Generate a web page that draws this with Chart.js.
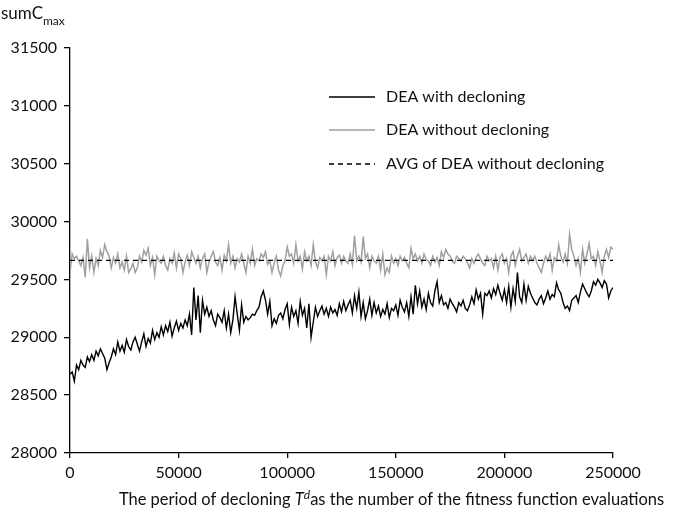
<!DOCTYPE html>
<html>
<head>
<meta charset="utf-8">
<script src="https://cdn.jsdelivr.net/npm/chart.js@4"></script>
<style>
  html, body { margin: 0; padding: 0; background: #fff; }
  #wrap { width: 686px; height: 513px; position: relative; }
</style>
</head>
<body>
<div id="wrap"><canvas id="myChart" width="686" height="513"></canvas></div>
<script>
// evaluations on x, one sample every 1000
const evalStep = 1000;
const evalMax = 250000;

const withDecloning = [
	28680, 28700, 28620, 28760, 28720, 28800, 28760, 28740, 28830, 28790,
	28850, 28800, 28880, 28840, 28900, 28860, 28820, 28720, 28780, 28830,
	28900, 28850, 28960, 28880, 28930, 28870, 28980, 28920, 28890, 28960,
	29000, 28940, 28880, 28960, 29030, 28920, 28990, 28950, 29060, 28980,
	29040, 29000, 29090, 29020, 29100, 29050, 29130, 29010, 29080, 29140,
	29060, 29120, 29080, 29150, 29100, 29200, 29020, 29430, 29150, 29360,
	29040, 29320, 29200, 29260, 29180, 29230, 29150, 29100, 29200, 29170,
	29130, 29230, 29080, 29200, 29040, 29150, 29350, 29200, 29060, 29280,
	29130, 29180, 29150, 29170, 29200, 29190, 29230, 29260, 29350, 29400,
	29320, 29200, 29310, 29100, 29160, 29120, 29190, 29210, 29160, 29240,
	29290, 29110, 29260, 29180, 29230, 29120, 29310, 29190, 29250, 29080,
	29290, 29000, 29130, 29260, 29180, 29230, 29270, 29200, 29250, 29180,
	29260, 29210, 29240, 29190, 29290, 29220, 29310, 29230, 29280, 29320,
	29210, 29360, 29250, 29390, 29180, 29300, 29160, 29230, 29330, 29190,
	29300, 29210, 29270, 29180, 29240, 29200, 29290, 29170, 29250, 29230,
	29280, 29190, 29320, 29260, 29220, 29300, 29180, 29350, 29200, 29450,
	29290, 29400, 29260, 29330, 29240, 29380, 29300, 29270, 29400, 29480,
	29300, 29360, 29280, 29300, 29250, 29330, 29290, 29260, 29220, 29300,
	29270, 29320, 29250, 29230, 29280, 29350, 29290, 29410, 29330, 29380,
	29200, 29380, 29360, 29400, 29340, 29420, 29370, 29450, 29380, 29320,
	29410, 29300, 29440, 29260, 29420, 29310, 29560, 29350, 29300, 29460,
	29320, 29440, 29380, 29340, 29300, 29280, 29330, 29360, 29290, 29340,
	29400, 29330, 29370, 29350, 29470, 29410, 29380, 29300, 29250, 29270,
	29230, 29320, 29340, 29360, 29300, 29390, 29460, 29420, 29380, 29350,
	29400, 29480, 29450, 29500, 29470, 29430, 29490, 29460, 29340, 29400,
	29430
];

const withoutDecloning = [
	29560, 29720, 29680, 29700, 29660, 29620, 29690, 29520, 29850, 29600,
	29700, 29560, 29680, 29620, 29750, 29690, 29800, 29740, 29700, 29600,
	29690, 29640, 29720, 29600, 29650, 29580, 29700, 29560, 29590, 29640,
	29560, 29600, 29700, 29650, 29750, 29710, 29770, 29620, 29690, 29540,
	29700, 29660, 29640, 29700, 29620, 29580, 29680, 29640, 29730, 29600,
	29720, 29680, 29560, 29650, 29710, 29620, 29740, 29690, 29640, 29700,
	29600, 29680, 29720, 29560, 29650, 29700, 29740, 29650, 29620, 29690,
	29580, 29710, 29660, 29800, 29640, 29700, 29600, 29680, 29650, 29720,
	29640, 29560, 29700, 29640, 29760, 29620, 29680, 29660, 29720, 29690,
	29740, 29630, 29660, 29560, 29640, 29700, 29580, 29530, 29620, 29660,
	29780, 29700, 29720, 29640, 29800, 29660, 29700, 29590, 29740, 29660,
	29700, 29620, 29800, 29650, 29600, 29690, 29660, 29700, 29540, 29700,
	29660, 29740, 29620, 29690, 29710, 29640, 29700, 29660, 29640, 29720,
	29630, 29880, 29660, 29700, 29650, 29870, 29680, 29720, 29600, 29700,
	29660, 29640, 29700, 29580, 29720, 29540, 29600, 29560, 29700, 29640,
	29680, 29620, 29700, 29660, 29690, 29640, 29600, 29770, 29680, 29720,
	29660, 29700, 29640, 29720, 29670, 29660, 29620, 29700, 29650, 29690,
	29620, 29740, 29690, 29760, 29720, 29700, 29660, 29640, 29700, 29680,
	29660, 29700, 29680, 29640, 29600, 29680, 29640, 29690, 29720, 29680,
	29640, 29620, 29700, 29660, 29680, 29600, 29700, 29580, 29690, 29720,
	29640, 29680, 29560, 29700, 29740, 29620, 29700, 29760, 29660, 29690,
	29720, 29640, 29700, 29660, 29700, 29640, 29600, 29560, 29640, 29700,
	29660, 29720, 29580, 29690, 29660, 29800, 29700, 29650, 29720, 29640,
	29890, 29760, 29700, 29620, 29680, 29560, 29760, 29640, 29720, 29810,
	29680, 29700, 29620, 29740, 29660, 29560, 29700, 29760, 29690, 29780,
	29760
];

// average of DEA without decloning, drawn across the whole range
const avgX = [0, 250000];
const avgWithoutDecloning = [29665, 29665];

const yTicks = [28000, 28500, 29000, 29500, 30000, 30500, 31000, 31500];
const xTicks = [0, 50000, 100000, 150000, 200000, 250000];

const legendNames = ["DEA with decloning", "DEA without decloning", "AVG of DEA without decloning"];

const FONT = "Lato";
Chart.defaults.font.family = FONT;
Chart.defaults.color = "#111";

function toPoints(values) {
	return values.map((v, i) => ({ x: i * evalStep, y: v }));
}

// titles + legend drawn by hand
const decorPlugin = {
	id: "decor",
	afterDraw(chart) {
		const ctx = chart.ctx;
		ctx.save();
		ctx.fillStyle = "#111";
		ctx.textBaseline = "alphabetic";
		ctx.textAlign = "left";

		// y title sumC_max
		ctx.font = "17px " + FONT;
		ctx.fillText("sumC", 1, 19);
		let w = ctx.measureText("sumC").width;
		ctx.font = "12px " + FONT;
		ctx.fillText("max", 1 + w, 25);

		// x title with italic T and superscript d
		const parts = [
			{ t: "The period of decloning ", f: "", dy: 0 },
			{ t: "T", f: "italic ", dy: 0 },
			{ t: "d", f: "italic ", dy: -6, small: true },
			{ t: "as the number of the fitness function evaluations", f: "", dy: 0 },
		];
		let size = 18;
		const target = 557;
		const measure = (s) => {
			let tot = 0;
			parts.forEach((p) => {
				ctx.font = p.f + (p.small ? Math.round(s * 0.7) : s) + "px " + FONT;
				tot += ctx.measureText(p.t).width;
			});
			return tot;
		};
		let total = measure(size);
		while (total > target && size > 10) {
			size -= 0.5;
			total = measure(size);
		}
		let xx = 113 + (target - total) / 2;
		parts.forEach((p) => {
			ctx.font = p.f + (p.small ? Math.round(size * 0.7) : size) + "px " + FONT;
			ctx.fillText(p.t, xx, 505 + p.dy);
			xx += ctx.measureText(p.t).width;
		});

		// legend
		const rows = [
			{ y: 97, color: "#000", dash: [], width: 1.5 },
			{ y: 130, color: "#a0a0a0", dash: [], width: 1.5 },
			{ y: 164, color: "#000", dash: [5, 4], width: 1.3 },
		];
		ctx.font = "16px " + FONT;
		ctx.textBaseline = "middle";
		rows.forEach((r, i) => {
			ctx.beginPath();
			ctx.strokeStyle = r.color;
			ctx.lineWidth = r.width;
			ctx.setLineDash(r.dash);
			ctx.moveTo(329, r.y);
			ctx.lineTo(375, r.y);
			ctx.stroke();
			ctx.setLineDash([]);
			ctx.fillText(legendNames[i], 386, r.y);
		});
		ctx.restore();
	},
};

const ctx = document.getElementById("myChart").getContext("2d");
const myChart = new Chart(ctx, {
	type: "line",
	data: {
		datasets: [
			{
				label: legendNames[2],
				data: avgX.map((x, i) => ({ x: x, y: avgWithoutDecloning[i] })),
				borderColor: "#000",
				borderWidth: 1.3,
				borderDash: [5, 4],
				pointRadius: 0,
				order: 0,
			},
			{
				label: legendNames[1],
				data: toPoints(withoutDecloning),
				borderColor: "#a0a0a0",
				borderWidth: 1.5,
				pointRadius: 0,
				tension: 0,
				order: 2,
			},
			{
				label: legendNames[0],
				data: toPoints(withDecloning),
				borderColor: "#000",
				borderWidth: 1.4,
				pointRadius: 0,
				tension: 0,
				order: 1,
			},
		],
	},
	options: {
		responsive: false,
		animation: false,
		layout: { padding: { left: 0, right: 73, top: 48, bottom: 0 } },
		plugins: {
			legend: { display: false },
			tooltip: { enabled: false },
		},
		scales: {
			x: {
				type: "linear",
				min: 0,
				max: evalMax,
				afterBuildTicks: (scale) => {
					scale.ticks = xTicks.map((v) => ({ value: v }));
				},
				afterFit: (scale) => {
					scale.height = 60;
				},
				border: { color: "#000", width: 1.3 },
				grid: {
					drawOnChartArea: false,
					drawTicks: true,
					tickLength: 5,
					color: "#000",
					lineWidth: 1.3,
				},
				ticks: {
					font: { size: 16 },
					padding: 5,
					maxRotation: 0,
					callback: (v) => String(v),
				},
			},
			y: {
				min: 28000,
				max: 31500,
				afterBuildTicks: (scale) => {
					scale.ticks = yTicks.map((v) => ({ value: v }));
				},
				afterFit: (scale) => {
					scale.width = 70;
				},
				border: { color: "#000", width: 1.3 },
				grid: {
					drawOnChartArea: false,
					drawTicks: true,
					tickLength: 6,
					color: "#000",
					lineWidth: 1.3,
				},
				ticks: {
					font: { size: 16 },
					padding: 7,
					callback: (v) => String(v),
				},
			},
		},
	},
	plugins: [decorPlugin],
});
</script>
</body>
</html>
